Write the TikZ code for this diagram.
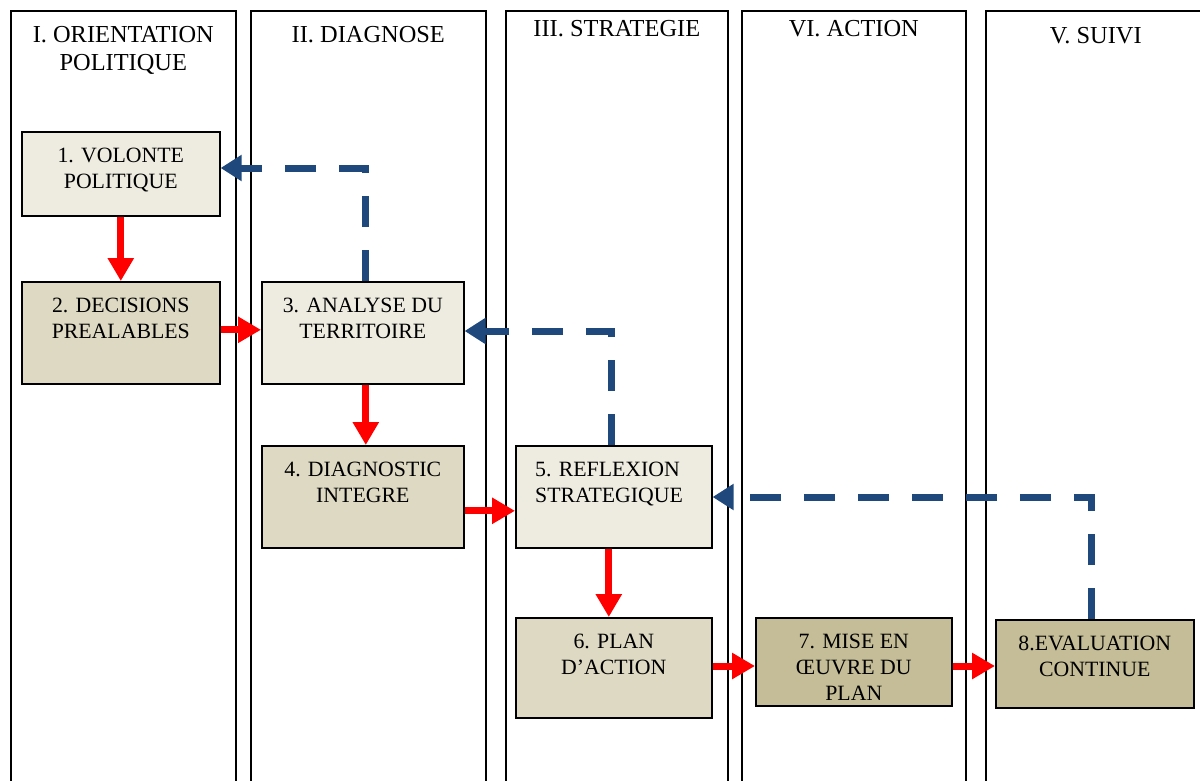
\documentclass[tikz,border=0pt]{standalone}
\usepackage{fontspec}
\setmainfont{Liberation Serif}
\usetikzlibrary{arrows.meta}
\definecolor{tanA}{HTML}{EEECE1}
\definecolor{tanB}{HTML}{DDD9C3}
\definecolor{tanC}{HTML}{C4BD97}
\definecolor{navy}{HTML}{1F497D}
\newcommand\boxfnt{\fontsize{21.8}{26}\selectfont}
\newcommand\hdrfnt{\fontsize{24.4}{28}\selectfont}
\begin{document}
\begin{tikzpicture}[x=1pt,y=-1pt,
  lane/.style={draw=black, line width=1.6pt, anchor=north west, minimum width=#1, minimum height=800pt, inner sep=0pt},
  hdr/.style={anchor=north, inner sep=0pt, align=center, font=\hdrfnt},
  box/.style={draw=black, line width=1.6pt, anchor=north west, inner sep=0pt},
  btext/.style={anchor=north, inner sep=0pt, align=center, font=\boxfnt, yshift=-16.5pt},
  flow/.style={draw=red, line width=7pt, -{Triangle[length=23pt,width=25pt]}},
  back/.style={draw=navy, line width=7pt, dash pattern=on 31pt off 23pt, -{Triangle[length=21pt,width=25pt]}}
]
\useasboundingbox (0,0) rectangle (1200,780);
\clip (0,0) rectangle (1200,780);
\fill[white] (0,0) rectangle (1200,780);
% lanes
\node[lane=225pt, label={[hdr, yshift=-16pt]north:I. ORIENTATION\\POLITIQUE}] (L1) at (10,10) {};
\node[lane=235pt, label={[hdr, yshift=-16pt]north:II. DIAGNOSE}] (L2) at (250,10) {};
\node[lane=222pt, label={[hdr, yshift=-10pt]north:III. STRATEGIE}] (L3) at (505,10) {};
\node[lane=224pt, label={[hdr, yshift=-10pt]north:VI. ACTION}] (L4) at (741,10) {};
\node[lane=240pt, label={[hdr, yshift=-17pt, xshift=-10pt]north:V. SUIVI}] (L5) at (985,10) {};
% boxes
\node[box, fill=tanA, minimum width=198pt, minimum height=84pt,
  label={[btext]north:1. VOLONTE\\POLITIQUE}] (b1) at (21,131) {};
\node[box, fill=tanB, minimum width=198pt, minimum height=102pt,
  label={[btext]north:2. DECISIONS\\PREALABLES}] (b2) at (21,281) {};
\node[box, fill=tanA, minimum width=202pt, minimum height=102pt,
  label={[btext]north:3. ANALYSE DU\\TERRITOIRE}] (b3) at (261,281) {};
\node[box, fill=tanB, minimum width=202pt, minimum height=102pt,
  label={[btext]north:4. DIAGNOSTIC\\INTEGRE}] (b4) at (261,445) {};
\node[box, fill=tanA, minimum width=196pt, minimum height=102pt,
  label={[btext, anchor=north west, align=left, xshift=20pt]north west:5. REFLEXION\\STRATEGIQUE}] (b5) at (515,445) {};
\node[box, fill=tanB, minimum width=196pt, minimum height=100pt,
  label={[btext]north:6. PLAN\\D’ACTION}] (b6) at (515,617) {};
\node[box, fill=tanC, minimum width=196pt, minimum height=88pt,
  label={[btext]north:7. MISE EN\\ŒUVRE DU\\PLAN}] (b7) at (755,617) {};
\node[box, fill=tanC, minimum width=198pt, minimum height=88pt,
  label={[btext]north:8.EVALUATION\\CONTINUE}] (b8) at (995,619) {};
% red forward arrows
\draw[flow] (b1) -- (b2);
\draw[flow] ([yshift=3pt]b2.east) -- ([yshift=3pt]b3.west);
\draw[flow] ([xshift=3pt]b3.south) -- ([xshift=3pt]b4.north);
\draw[flow] ([yshift=-14pt]b4.east) -- ([yshift=-14pt]b5.west);
\draw[flow] ([xshift=-5pt]b5.south) -- ([xshift=-5pt]b6.north);
\coordinate (r6) at (0,666);
\draw[flow] (b6.east |- r6) -- (b7.west |- r6);
\draw[flow] (b7.east |- r6) -- (b8.west |- r6);
% blue feedback arrows
\coordinate (k1) at (365,168);
\draw[back] (b3.north -| k1) -- (k1) -- (b1.east |- k1);
\coordinate (k2) at (611,331);
\draw[back] (b5.north -| k2) -- (k2) -- (b3.east |- k2);
\coordinate (k3) at (1091,497);
\draw[back] (b8.north -| k3) -- (k3) -- (b5.east |- k3);
\end{tikzpicture}
\end{document}
